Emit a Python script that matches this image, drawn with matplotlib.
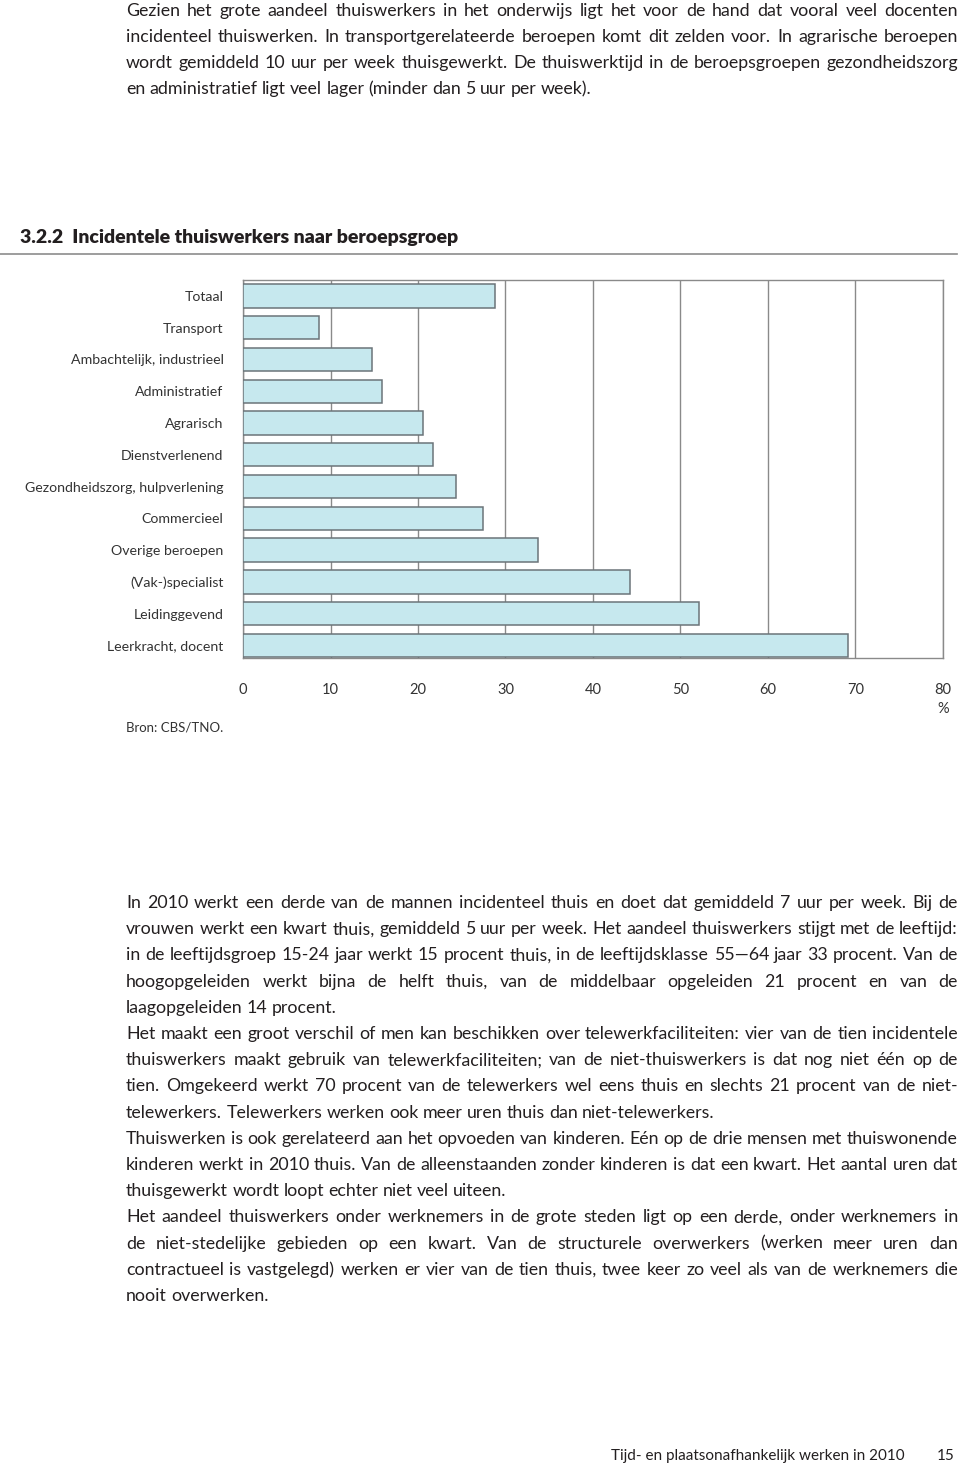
import matplotlib.pyplot as plt

# Chart data
categories = [
    "Totaal", "Transport", "Ambachtelijk, industrieel", "Administratief",
    "Agrarisch", "Dienstverlenend", "Gezondheidszorg, hulpverlening",
    "Commercieel", "Overige beroepen", "(Vak-)specialist", "Leidinggevend",
    "Leerkracht, docent",
]
values = [28.8, 8.7, 14.7, 15.9, 20.6, 21.7, 24.3, 27.4, 33.7, 44.2, 52.1, 69.1]
xticks = [0, 10, 20, 30, 40, 50, 60, 70, 80]

title = "3.2.2  Incidentele thuiswerkers naar beroepsgroep"
source = "Bron: CBS/TNO."

intro_lines = [
    "Gezien het grote aandeel thuiswerkers in het onderwijs ligt het voor de hand dat vooral veel docenten",
    "incidenteel thuiswerken. In transportgerelateerde beroepen komt dit zelden voor. In agrarische beroepen",
    "wordt gemiddeld 10 uur per week thuisgewerkt. De thuiswerktijd in de beroepsgroepen gezondheidszorg",
    "en administratief ligt veel lager (minder dan 5 uur per week).",
]
body_lines = [
    "In 2010 werkt een derde van de mannen incidenteel thuis en doet dat gemiddeld 7 uur per week. Bij de",
    "vrouwen werkt een kwart thuis, gemiddeld 5 uur per week. Het aandeel thuiswerkers stijgt met de leeftijd:",
    "in de leeftijdsgroep 15-24 jaar werkt 15 procent thuis, in de leeftijdsklasse 55—64 jaar 33 procent. Van de",
    "hoogopgeleiden werkt bijna de helft thuis, van de middelbaar opgeleiden 21 procent en van de",
    "laagopgeleiden 14 procent.",
    "Het maakt een groot verschil of men kan beschikken over telewerkfaciliteiten: vier van de tien incidentele",
    "thuiswerkers maakt gebruik van telewerkfaciliteiten; van de niet-thuiswerkers is dat nog niet één op de",
    "tien. Omgekeerd werkt 70 procent van de telewerkers wel eens thuis en slechts 21 procent van de niet-",
    "telewerkers. Telewerkers werken ook meer uren thuis dan niet-telewerkers.",
    "Thuiswerken is ook gerelateerd aan het opvoeden van kinderen. Eén op de drie mensen met thuiswonende",
    "kinderen werkt in 2010 thuis. Van de alleenstaanden zonder kinderen is dat een kwart. Het aantal uren dat",
    "thuisgewerkt wordt loopt echter niet veel uiteen.",
    "Het aandeel thuiswerkers onder werknemers in de grote steden ligt op een derde, onder werknemers in",
    "de niet-stedelijke gebieden op een kwart. Van de structurele overwerkers (werken meer uren dan",
    "contractueel is vastgelegd) werken er vier van de tien thuis, twee keer zo veel als van de werknemers die",
    "nooit overwerken.",
]
# lines that end a paragraph are not stretched
body_last = [4, 8, 11, 15]
footer = "Tijd- en plaatsonafhankelijk werken in 2010"
page_no = "15"

W, H = 960, 1466
FONT = "Lato"
TXT = "#231f20"
GRID = "#8a8a8a"
LBL = "#333333"

fig = plt.figure(figsize=(W / 100, H / 100), dpi=100)
renderer = fig.canvas.get_renderer()


def fy(y):
    return 1 - y / H


def justify(line, y, x0=126, x1=958, size=12, last=False, **kw):
    # y is the baseline in pixels from the top
    words = line.split(" ")
    texts = [fig.text(0, fy(y), w, fontsize=size, family=FONT, color=TXT,
                      va="baseline", ha="left", **kw) for w in words]
    widths = [t.get_window_extent(renderer).width for t in texts]
    if last or len(words) == 1:
        gap = size * 100 / 72 * 0.24
    else:
        gap = (x1 - x0 - sum(widths)) / (len(words) - 1)
    x = x0
    for t, w in zip(texts, widths):
        t.set_x(x / W)
        x += w + gap


# Intro paragraph
for i, line in enumerate(intro_lines):
    justify(line, 16 + 26 * i, size=12.8, last=(i == len(intro_lines) - 1))

# Heading
fig.text(20 / W, fy(243), title, fontsize=14, family=FONT,
         fontweight="heavy", color=TXT, va="baseline", ha="left")
fig.add_artist(plt.Line2D([0, 957 / W], [fy(254), fy(254)],
                          color="#8c8c8c", lw=1.2))

# Bar chart
ax = fig.add_axes([243 / W, fy(657.5), 700 / W, (657.5 - 280) / H])
ypos = list(range(len(categories)))
ax.barh(ypos, values, height=0.735, color="#c6e8ee",
        edgecolor="#6b7479", linewidth=1.1, zorder=3)
ax.set_xlim(0, 80)
ax.set_ylim(11.38, -0.5)
ax.set_xticks(xticks)
ax.set_xticklabels([str(t) for t in xticks], family=FONT, fontsize=10.5,
                   color=LBL)
ax.set_yticks(ypos)
ax.set_yticklabels(categories, family=FONT, fontsize=10.2, color=LBL)
ax.tick_params(axis="x", length=0, pad=18)
ax.tick_params(axis="y", length=0, pad=14)
ax.grid(axis="x", color=GRID, lw=1.0, zorder=0)
for s in ax.spines.values():
    s.set_color(GRID)
    s.set_linewidth(1.0)
fig.text(943 / W, fy(709), "%", fontsize=10.5, family=FONT, color=LBL,
         va="center", ha="center")
fig.text(126 / W, fy(728), source, fontsize=9.5, family=FONT, color=LBL,
         va="center", ha="left")

# Body text
for i, line in enumerate(body_lines):
    justify(line, 908 + 26.2 * i, size=12.8, last=(i in body_last))

# Footer
fig.text(905 / W, fy(1460), footer, fontsize=11, family=FONT, color=TXT,
         va="baseline", ha="right")
fig.text(955 / W, fy(1460), page_no, fontsize=11, family=FONT, color=TXT,
         va="baseline", ha="right")

fig.savefig("out.png", dpi=100)
plt.close(fig)
